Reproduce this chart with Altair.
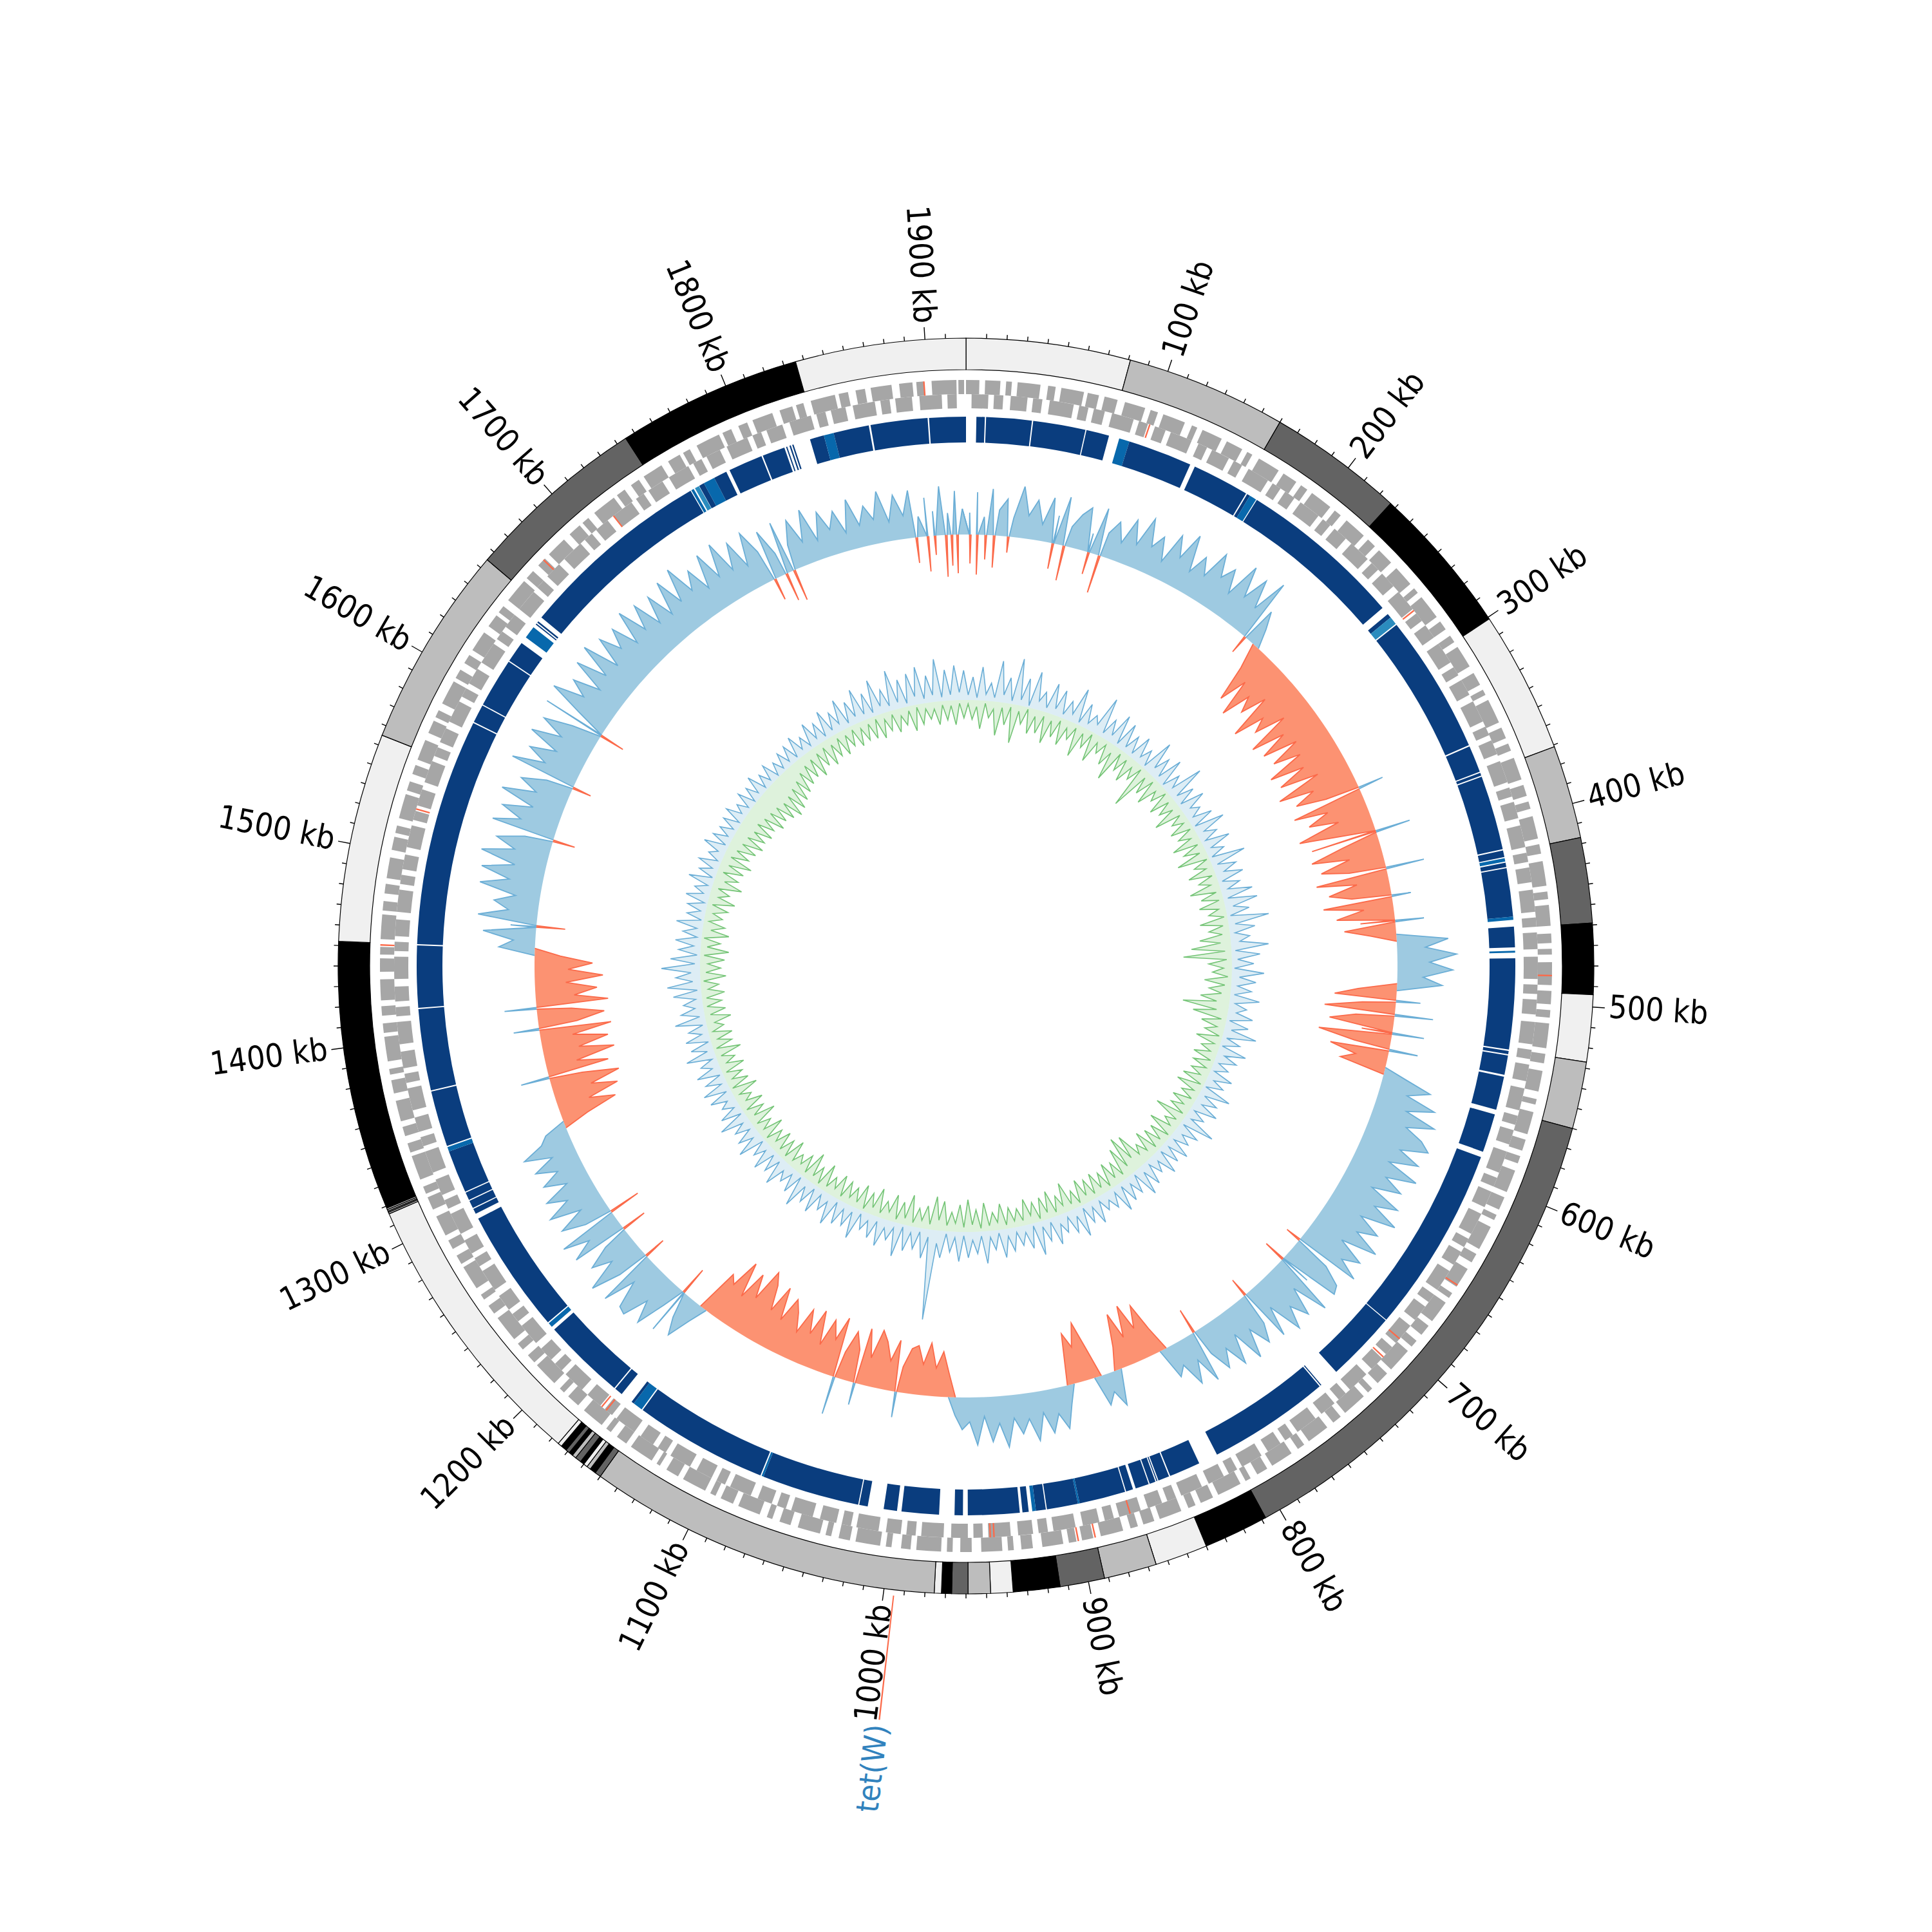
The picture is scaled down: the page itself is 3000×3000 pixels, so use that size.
import altair as alt
import numpy as np
import pandas as pd

GENOME_KB = 1920
BIN_KB = 5
HALF = 1492
FONT = "Liberation Sans Narrow, DejaVu Sans Condensed, sans-serif"

# ---------------- contigs (start kb, end kb, shade) ----------------
contigs = [
    (0, 81, "vl"), (81, 160, "lg"), (160, 227, "dk"), (227, 301, "bk"), (301, 371, "vl"),
    (371, 417, "lg"), (417, 459, "dk"), (459, 494, "bk"), (494, 527, "vl"), (527, 560, "lg"),
    (560, 808, "dk"), (808, 840, "bk"), (840, 866, "vl"), (866, 892, "lg"), (892, 914, "dk"),
    (914, 937, "bk"), (937, 948, "vl"), (948, 959, "lg"), (959, 967, "dk"), (967, 972, "bk"),
    (972, 975.5, "vl"), (975.5, 1150, "lg"), (1150, 1153, "dk"), (1153, 1156, "bk"),
    (1156, 1158, "lg"), (1158, 1160, "vl"), (1160, 1162, "bk"), (1162, 1165, "dk"),
    (1165, 1167, "lg"), (1167, 1169, "bk"), (1169, 1171, "dk"), (1171, 1174, "bk"),
    (1174, 1176, "vl"), (1176, 1316, "vl"), (1316, 1316.8, "lg"), (1316.8, 1317.5, "dk"),
    (1317.5, 1318.2, "vl"), (1318.2, 1319, "lg"), (1319, 1452, "bk"), (1452, 1555, "vl"),
    (1555, 1655, "lg"), (1655, 1745, "dk"), (1745, 1836, "bk"), (1836, 1920, "vl"),
]
contig_shades = ["vl", "lg", "dk", "bk"]
contig_colors = ["#f0f0f0", "#bdbdbd", "#636363", "#000000"]

# ---------------- axis ----------------
tick_kb = list(range(10, GENOME_KB, 10))
label_kb = list(range(100, 2000, 100))

# ---------------- gene runs per strand (start kb, end kb) ----------------
genes_plus = [
    (0, 7), (10, 18), (21, 24), (27, 39), (43, 47), (50, 62), (64, 70), (73, 80), (84, 95), (98, 102),
    (105, 117), (121, 124), (127, 138), (141, 150), (153, 156), (160, 172), (175, 183), (186, 190),
    (193, 205), (208, 212), (216, 228), (231, 236), (239, 248), (252, 263), (266, 269), (272, 285),
    (288, 293), (297, 301), (304, 316), (320, 327), (330, 333), (336, 349), (352, 358), (361, 365),
    (369, 381), (384, 390), (393, 397), (401, 413), (416, 421), (425, 438), (441, 445), (448, 459),
    (463, 468), (471, 474), (478, 490), (493, 500), (503, 507), (510, 523), (526, 531), (535, 546),
    (550, 553), (557, 569), (572, 578), (581, 585), (589, 601), (604, 611), (614, 617), (621, 634),
    (637, 642), (646, 657), (661, 664), (667, 679), (682, 688), (692, 696), (699, 712), (715, 722),
    (726, 729), (732, 745), (748, 753), (757, 769), (772, 776), (780, 792), (795, 801), (805, 808),
    (811, 824), (827, 834), (837, 841), (845, 857), (860, 866), (869, 873), (877, 889), (893, 899),
    (902, 906), (909, 920), (925, 931), (935, 938), (941, 952), (957, 963), (967, 970), (973, 986),
    (989, 994), (999, 1002), (1005, 1018), (1021, 1027), (1031, 1034), (1037, 1049), (1053, 1059),
    (1063, 1066), (1070, 1082), (1085, 1092), (1095, 1098), (1101, 1114), (1117, 1124), (1128, 1130),
    (1133, 1146), (1149, 1155), (1159, 1162), (1165, 1177), (1181, 1188), (1191, 1194), (1198, 1211),
    (1213, 1218), (1222, 1226), (1229, 1243), (1246, 1251), (1255, 1258), (1262, 1275), (1277, 1282),
    (1286, 1291), (1294, 1305), (1309, 1316), (1318, 1322), (1326, 1339), (1341, 1346), (1350, 1355),
    (1358, 1369), (1373, 1380), (1383, 1386), (1390, 1403), (1405, 1410), (1414, 1419), (1422, 1433),
    (1437, 1444), (1446, 1450), (1454, 1467), (1469, 1474), (1478, 1483), (1486, 1497), (1501, 1508),
    (1510, 1514), (1518, 1531), (1533, 1538), (1542, 1547), (1550, 1561), (1565, 1572), (1574, 1578),
    (1582, 1595), (1597, 1602), (1606, 1611), (1614, 1625), (1629, 1636), (1638, 1642), (1646, 1659),
    (1661, 1666), (1670, 1675), (1678, 1689), (1693, 1700), (1702, 1706), (1710, 1723), (1725, 1730),
    (1734, 1739), (1742, 1753), (1757, 1764), (1766, 1770), (1774, 1787), (1789, 1794), (1798, 1803),
    (1806, 1817), (1821, 1828), (1830, 1834), (1838, 1851), (1853, 1858), (1862, 1867), (1870, 1881),
    (1885, 1892), (1894, 1898), (1902, 1915), (1916, 1919),
]
genes_minus = [
    (3, 12), (15, 20), (24, 33), (36, 41), (45, 58), (61, 66), (69, 75), (79, 91), (94, 99), (103, 109),
    (112, 124), (128, 133), (136, 146), (149, 154), (158, 170), (173, 178), (181, 187), (191, 203),
    (206, 211), (214, 222), (226, 238), (241, 246), (249, 258), (262, 274), (277, 282), (285, 293),
    (297, 309), (312, 317), (320, 329), (333, 345), (348, 353), (356, 364), (368, 380), (383, 388),
    (391, 400), (404, 416), (419, 424), (427, 435), (439, 451), (454, 459), (462, 471), (475, 487),
    (490, 495), (498, 506), (510, 522), (525, 530), (533, 542), (546, 558), (561, 566), (569, 577),
    (581, 593), (596, 601), (604, 613), (617, 629), (632, 637), (640, 648), (652, 664), (667, 672),
    (675, 684), (688, 700), (703, 708), (711, 719), (723, 735), (738, 743), (746, 755), (759, 771),
    (774, 779), (782, 790), (794, 806), (809, 814), (817, 826), (830, 842), (845, 850), (853, 861),
    (865, 877), (880, 885), (888, 897), (901, 913), (916, 921), (924, 932), (936, 948), (951, 956),
    (959, 968), (972, 984), (987, 992), (995, 1003), (1007, 1019), (1022, 1027), (1030, 1039),
    (1043, 1055), (1058, 1063), (1066, 1074), (1078, 1090), (1093, 1098), (1101, 1110), (1114, 1126),
    (1129, 1134), (1137, 1145), (1149, 1161), (1164, 1169), (1172, 1181), (1185, 1197), (1200, 1205),
    (1208, 1216), (1220, 1232), (1235, 1240), (1243, 1252), (1256, 1268), (1271, 1276), (1279, 1287),
    (1291, 1303), (1306, 1311), (1314, 1323), (1327, 1339), (1342, 1347), (1350, 1358), (1362, 1374),
    (1377, 1382), (1385, 1394), (1398, 1410), (1413, 1418), (1421, 1429), (1433, 1445), (1448, 1453),
    (1456, 1465), (1469, 1481), (1484, 1489), (1492, 1500), (1504, 1516), (1519, 1524), (1527, 1536),
    (1540, 1552), (1555, 1560), (1563, 1571), (1575, 1587), (1590, 1595), (1598, 1607), (1611, 1623),
    (1626, 1631), (1634, 1642), (1646, 1658), (1661, 1666), (1669, 1678), (1682, 1694), (1697, 1702),
    (1705, 1713), (1717, 1729), (1732, 1737), (1740, 1749), (1753, 1765), (1768, 1773), (1776, 1784),
    (1788, 1800), (1803, 1808), (1811, 1820), (1824, 1836), (1839, 1844), (1847, 1855), (1859, 1871),
    (1874, 1879), (1882, 1891), (1895, 1907), (1910, 1915),
]
rna_genes = [
    (100, "-"), (275, "-"), (485, "+"), (656, "+"), (697, "-"), (710, "-"), (871, "-"), (892, "+"),
    (901, "+"), (945, "-"), (947, "-"), (1168, "-"), (1171, "-"), (1451, "+"), (1525, "-"),
    (1674, "+"), (1717, "-"), (1898, "+"),
]

# ---------------- comparison ring (start kb, end kb, shade) ----------------
hits = [
    (5.8, 10.5, "d"), (11.2, 36.8, "d"), (37.5, 67.0, "d"), (67.6, 80.5, "d"), (86.4, 92.3, "l"),
    (92.3, 128.5, "d"), (131.3, 163.5, "d"), (164.2, 166, "d"), (166, 170, "l"), (170.5, 263, "d"),
    (267.5, 270, "d"), (270, 274.5, "m"), (275.2, 353.5, "d"), (354.3, 369.5, "d"), (370.2, 371.8, "d"),
    (372.5, 414.5, "d"), (415.2, 419, "d"), (419.6, 421.5, "l"), (422.2, 424.6, "d"), (425.3, 452.5, "d"),
    (452.5, 454.3, "l"), (458, 469.6, "d"), (471.5, 472.6, "l"), (475.7, 526.7, "d"), (527.5, 529.3, "d"),
    (530, 540.9, "d"), (542, 560.9, "d"), (563.6, 585.4, "d"), (588.6, 693.8, "d"), (694.3, 734, "d"),
    (745, 745.6, "d"), (746.3, 815, "d"), (826, 843.6, "d"), (844.3, 850.6, "d"), (851.2, 851.8, "d"),
    (852.4, 855.8, "d"), (856.4, 864, "d"), (865.6, 869.6, "d"), (870.2, 896.3, "d"), (896.3, 897.3, "l"),
    (897.3, 914.8, "d"), (915.4, 921, "d"), (921, 923, "l"), (925, 928.5, "d"), (930, 959, "d"),
    (961.7, 966.4, "d"), (975, 996, "d"), (998.5, 1006, "d"), (1015, 1019.8, "d"), (1020.4, 1075.4, "d"),
    (1075.4, 1076.5, "l"), (1077.2, 1152.3, "d"), (1153, 1158.5, "l"), (1158.5, 1160, "d"),
    (1167, 1171.6, "d"), (1172.3, 1219, "d"), (1221, 1223.6, "l"), (1224.3, 1294, "d"), (1297, 1300, "d"),
    (1300.6, 1305, "d"), (1305.6, 1310, "d"), (1310.6, 1334.8, "d"), (1334.8, 1337.3, "l"),
    (1338, 1369.5, "d"), (1370.2, 1416, "d"), (1416.7, 1451.5, "d"), (1452.2, 1580, "d"),
    (1580.7, 1591, "d"), (1591.6, 1619.4, "d"), (1620, 1632, "d"), (1636, 1643, "l"), (1645, 1645.7, "d"),
    (1646.4, 1647.3, "d"), (1650, 1759.5, "d"), (1760, 1761.5, "l"), (1762.3, 1764.8, "m"),
    (1765, 1768, "d"), (1768, 1774.5, "l"), (1774.5, 1782, "d"), (1784, 1803.4, "d"), (1804.2, 1817, "d"),
    (1818, 1818.7, "d"), (1820, 1820.8, "d"), (1821.6, 1822.4, "d"), (1832, 1840, "d"), (1840, 1845.6, "l"),
    (1845.6, 1865.6, "d"), (1866.6, 1898.6, "d"), (1899.4, 1920, "d"),
]

# ---------------- skew track, 5 kb bins ----------------
skew = [
    34, 66, 28, 72, 40, 58, 30, 80, 36, 62, 26, 70, 44, 76, 32, 54, 68, 30, 74, 38,
    60, 30, 72, 36, 84, 42, 64, 28, 78, 46, 90, 34, 66, 40, 86, 52, 74, 38, 95, 48,
    88, 44, 100, 56, 30, -40, -96, -52, -110, -64, -88, -48, -118, -70, -92, -44, -112, -60, -104, -50,
    -98, -56, -115, -62, -108, -48, -120, -66, -100, -54, -112, -60, -95, -50, -118, -64, -104, -58, -110, -52,
    -100, -58, -112, -50, -96, -62, -108, -46, -90, -54, -80, -40, 80, 44, 92, 50, 86, 40, 70, -60,
    -96, -52, -110, -60, -100, -48, -114, -56, -92, -50, -72, 36, 78, 44, 92, 50, 100, 58, 88, 104,
    62, 98, 54, 106, 60, 92, 48, 100, 66, 110, 56, 94, 64, 108, 52, 96, 70, 104, 58, 90,
    96, 50, 100, 44, 88, 60, 94, 40, 86, 52, 80, 46, 90, 38, 84, 48, 76, 42, 82, 40,
    74, 36, 50, -40, -84, -50, -92, -44, -86, -36, 56, 30, 48, -50, -92, -56, -80, 30, 66, 40,
    68, 34, 76, 40, 62, 36, 80, 42, 70, 30, 74, 38, 50, 28, -36, -70, -44, -82, -48, -76,
    -70, -40, -80, -46, -74, -90, -44, -88, -52, -78, -42, -94, -56, -84, -40, -92, -50, -86, -44, -72,
    -90, -50, -100, -56, -94, -112, -60, -96, -50, -104, -58, -70, 30, 66, 40, 74, 36, 82, 48, 88,
    84, 42, 92, 50, 96, 46, 76, 40, 88, 54, 94, 44, 80, 38, 86, 48, 78, 36, 70, 40,
    72, 38, 80, 46, 34, -40, -90, -50, -100, -60, -108, -52, -96, -48, -110, -56, -104, -50, -112, -60,
    -104, -54, -112, -60, -96, -48, -106, -52, -90, -40, 56, 34, 82, 40, 92, 46, 70, 38, 96, 52,
    98, 48, 104, 54, 86, 44, 100, 58, 92, 46, 102, 50, 80, 42, 106, 56, 88, 48, 98, 52,
    90, 46, 100, 50, 104, 56, 84, 42, 96, 48, 102, 44, 92, 58, 88, 46, 98, 52, 90, 44,
    86, 42, 94, 48, 100, 52, 80, 40, 92, 46, 96, 44, 84, 38, 88, 50, 78, 36, 82, 40,
    76, 36, 84, 30, 72, 40, 66, 28, 78, 34, 62, 38, 80, 30, 70, 36, 74, 32, 60, 38, 76, 34, 68, 40,
]
# narrow opposite-sign excursions (kb, value)
skew_spikes = [
    (1885, -40), (1893, -55), (1898, -30), (1906, -65), (1910, -48), (1914, -60), (3, -45), (8, -62),
    (14, -38), (20, -50), (30, -25), (62, -40), (70, -55), (88, -35), (96, -60), (215, -30), (1780, -35),
    (1789, -45), (1795, -50), (1612, -40), (1570, -30), (1530, -35), (1468, -45), (1240, -40),
    (1215, -35), (1178, -45), (1255, -50), (745, -30), (708, -35), (690, -25), (790, -40),
    (350, 40), (383, 55), (410, 60), (430, 30), (448, 45), (505, 38), (515, 60), (528, 50), (540, 45),
    (1360, 45), (1395, 40), (1410, 50), (1010, 40), (1040, 35), (1055, 60),
]

# ---------------- inner track, 5 kb bins ----------------
gc_up = [
    8, 36, 4, 52, 10, 28, 6, 64, 12, 40, 5, 72, 9, 44, 3, 58, 14, 30, 7, 48,
    10, 42, 6, 30, 12, 56, 4, 38, 9, 26, 14, 62, 7, 34, 11, 50, 5, 44, 8, 32,
    6, 40, 10, 28, 4, 54, 12, 36, 7, 46, 3, 30, 11, 60, 8, 34, 5, 42, 13, 26,
    9, 38, 4, 50, 12, 30, 7, 44, 10, 28, 5, 56, 8, 36, 14, 42, 6, 32, 11, 48,
    7, 52, 12, 36, 5, 64, 10, 40, 8, 30, 14, 58, 6, 44, 9, 34, 4, 50, 12, 38,
    10, 32, 6, 46, 9, 28, 13, 40, 5, 36, 11, 52, 7, 30, 4, 44, 12, 34, 8, 26,
    6, 38, 11, 30, 4, 48, 9, 34, 12, 42, 7, 28, 10, 54, 5, 36, 13, 30, 8, 40,
    9, 34, 5, 42, 12, 28, 7, 38, 10, 46, 4, 32, 11, 36, 6, 44, 8, 30, 13, 26,
    7, 40, 10, 32, 5, 48, 12, 36, 8, 30, 14, 44, 6, 34, 9, 52, 4, 38, 11, 30,
    8, 36, 12, 44, 5, 30, 10, 50, 7, 34, 13, 40, 6, 46, 9, 32, 4, 42, 20, 140,
    12, 46, 6, 34, 10, 40, 4, 52, 9, 30, 13, 44, 7, 36, 11, 28, 5, 48, 8, 34,
    10, 38, 5, 46, 12, 30, 8, 42, 6, 34, 11, 50, 4, 36, 9, 28, 13, 44, 7, 32,
    6, 40, 10, 28, 4, 44, 12, 34, 8, 30, 11, 46, 5, 36, 9, 26, 13, 38, 7, 42,
    9, 32, 5, 40, 12, 28, 7, 46, 10, 34, 4, 38, 11, 30, 6, 48, 8, 36, 13, 30,
    10, 44, 6, 52, 12, 38, 14, 60, 8, 46, 5, 34, 11, 40, 7, 30, 9, 42, 4, 28,
    8, 30, 5, 36, 10, 26, 7, 40, 4, 28, 9, 34, 6, 24, 11, 38, 5, 30, 8, 26,
    6, 28, 4, 32, 8, 22, 5, 30, 3, 26, 7, 34, 4, 24, 6, 30, 3, 22, 5, 28,
    7, 30, 4, 36, 9, 26, 6, 40, 10, 32, 5, 44, 8, 34, 12, 48, 6, 38, 11, 52,
    9, 40, 6, 56, 12, 36, 8, 62, 10, 44, 5, 50, 13, 58, 7, 42, 11, 66, 6, 48, 9, 54, 12, 46,
]
gc_down = [
    -6, -30, -10, -44, -4, -26, -12, -52, -8, -34, -5, -60, -9, -28, -3, -40, -11, -36, -7, -48,
    -10, -34, -5, -42, -12, -28, -6, -50, -9, -30, -4, -46, -11, -26, -7, -38, -13, -56, -6, -32,
    -8, -42, -12, -30, -5, -70, -10, -36, -6, -44, -13, -28, -4, -40, -9, -32, -11, -48, -7, -26,
    -9, -36, -5, -30, -12, -46, -7, -34, -10, -50, -4, -28, -11, -42, -6, -30, -13, -48, -8, -34,
    -7, -40, -11, -28, -5, -44, -9, -32, -12, -48, -16, -62, -10, -75, -8, -36, -13, -30, -6, -42,
    -10, -34, -14, -46, -20, -72, -18, -54, -8, -38, -12, -30, -5, -40, -9, -28, -11, -36, -6, -32,
    -8, -30, -12, -38, -5, -42, -10, -28, -7, -36, -13, -32, -6, -50, -9, -26, -11, -44, -4, -34,
    -9, -36, -6, -42, -12, -30, -16, -56, -20, -62, -14, -50, -8, -34, -11, -40, -5, -32, -10, -38,
    -7, -34, -11, -40, -5, -28, -9, -46, -12, -30, -6, -42, -10, -36, -4, -32, -13, -40, -8, -28,
    -10, -32, -6, -40, -12, -28, -8, -44, -5, -34, -11, -50, -7, -42, -13, -30, -9, -46, -16, -52,
    -8, -36, -12, -30, -6, -48, -10, -34, -5, -42, -13, -28, -7, -44, -11, -32, -4, -40, -9, -30,
    -11, -34, -6, -38, -12, -28, -8, -42, -5, -30, -10, -46, -7, -34, -13, -26, -9, -40, -6, -32,
    -8, -36, -12, -30, -5, -40, -10, -28, -7, -44, -11, -32, -6, -38, -13, -26, -9, -42, -4, -34,
    -10, -30, -6, -38, -12, -28, -8, -42, -5, -32, -11, -36, -7, -26, -13, -40, -9, -34, -6, -30,
    -7, -36, -11, -28, -5, -40, -9, -32, -12, -38, -6, -44, -10, -30, -4, -42, -13, -34, -8, -28,
    -12, -34, -8, -42, -14, -30, -10, -46, -16, -36, -9, -40, -13, -48, -11, -38, -15, -44, -18, -50,
    -20, -46, -24, -52, -22, -48, -26, -58, -28, -54, -30, -60, -34, -66, -32, -62, -28, -56, -24, -50,
    -18, -44, -14, -40, -12, -46, -10, -36, -8, -42, -11, -34, -7, -38, -9, -30, -6, -36, -10, -32,
    -8, -34, -5, -38, -10, -30, -6, -36, -12, -28, -7, -40, -4, -32, -9, -26, -11, -36, -6, -30, -8, -38, -5, -28,
]

# ---------------- annotation ----------------
annot_kb = 995
annot_text = "tet(W)"

# ======================================================================
theta_scale = alt.Scale(domain=[0, GENOME_KB], range=[0, 2 * np.pi], nice=False, zero=False)
xy_scale = alt.Scale(domain=[-HALF, HALF], nice=False, zero=False)


def th(field):
    return alt.Theta(f"{field}:Q", scale=theta_scale)


def ring(df, r_out, r_in, **kw):
    return alt.Chart(df).mark_arc(radius=r_out, radius2=r_in, **kw).encode(theta=th("start"), theta2="end:Q")


# ---- polar polyline helpers (track values -> x/y via the chart's own transform) ----
def series_points(bins, spikes):
    pts = [(BIN_KB * i + BIN_KB / 2, v) for i, v in enumerate(bins)]
    for kb, v in spikes:
        pts += [(kb - 0.6, 0), (kb, v), (kb + 0.6, 0)]
    pts.sort()
    return [(pts[-1][0] - GENOME_KB, pts[-1][1])] + pts + [(pts[0][0] + GENOME_KB, pts[0][1])]


def line_frame(pts):
    active = [v != 0 for _, v in pts]
    rows, seg, prev_in = [], 0, False
    for i, (kb, v) in enumerate(pts):
        near = active[i] or (i > 0 and active[i - 1]) or (i < len(pts) - 1 and active[i + 1])
        if not near:
            prev_in = False
            continue
        if not prev_in or (not active[i] and not active[i - 1]):
            seg += 1
        rows.append((kb, v, seg, i))
        prev_in = True
    return pd.DataFrame(rows, columns=["kb", "v", "seg", "idx"])


def fill_frame(pts):
    allp = list(pts) + [(kb, 0) for kb, _ in reversed(pts)]
    return pd.DataFrame({"kb": [p[0] for p in allp], "v": [p[1] for p in allp], "idx": range(len(allp))})


def polar(chart, r0):
    return chart.transform_calculate(
        r=f"{r0} + datum.v",
        x=f"datum.r * sin(2 * PI * datum.kb / {GENOME_KB})",
        y=f"datum.r * cos(2 * PI * datum.kb / {GENOME_KB})",
    )


def track_fill(df, r0, color, opacity):
    c = alt.Chart(df).mark_line(filled=True, interpolate="linear-closed", fill=color, fillOpacity=opacity,
                                strokeWidth=0)
    return polar(c, r0).encode(x=alt.X("x:Q", scale=xy_scale, axis=None),
                               y=alt.Y("y:Q", scale=xy_scale, axis=None),
                               order=alt.Order("idx:Q"))


def track_line(df, r0, color, width):
    c = alt.Chart(df).mark_line(color=color, strokeWidth=width, strokeJoin="miter")
    return polar(c, r0).encode(x=alt.X("x:Q", scale=xy_scale, axis=None),
                               y=alt.Y("y:Q", scale=xy_scale, axis=None),
                               detail="seg:N", order=alt.Order("idx:Q"))


# contigs
contig_df = pd.DataFrame(contigs, columns=["start", "end", "shade"])
contig_layer = ring(contig_df, 975, 926, stroke="black", strokeWidth=1.2).encode(
    fill=alt.Fill("shade:N", scale=alt.Scale(domain=contig_shades, range=contig_colors), legend=None))

# ticks
tick_df = pd.DataFrame({"kb": tick_kb})
tick_df["start"] = tick_df["kb"] - 0.22
tick_df["end"] = tick_df["kb"] + 0.22
is_major = tick_df["kb"] % 100 == 0
minor_ticks = ring(tick_df[~is_major], 982, 975, fill="black")
major_ticks = ring(tick_df[is_major], 994, 975, fill="black")

# labels
lab_df = pd.DataFrame({"kb": label_kb})
lab_df["text"] = lab_df["kb"].astype(str) + " kb"
deg = lab_df["kb"] / GENOME_KB * 360
lab_df["ang"] = np.where(deg < 180, (deg - 90) % 360, (deg - 270) % 360)


def labels(df, align):
    return alt.Chart(df).mark_text(radius=1000, align=align, baseline="middle", fontSize=50, font=FONT,
                                   color="black").encode(
        theta=th("kb"), text="text:N", angle=alt.Angle("ang:Q", scale=None))


right_labels = labels(lab_df[deg < 180], "left")
left_labels = labels(lab_df[deg >= 180], "right")

# genes
gp = pd.DataFrame(genes_plus, columns=["start", "end"])
gm = pd.DataFrame(genes_minus, columns=["start", "end"])
genes_out = ring(gp, 910, 888, fill="#a6a6a6")
genes_in = ring(gm, 888, 866, fill="#a6a6a6")
rna_df = pd.DataFrame(rna_genes, columns=["kb", "strand"])
rna_df["start"] = rna_df["kb"] - 0.4
rna_df["end"] = rna_df["kb"] + 0.4
rna_out = ring(rna_df[rna_df["strand"] == "+"], 910, 888, fill="#fb6a4a")
rna_in = ring(rna_df[rna_df["strand"] == "-"], 888, 866, fill="#fb6a4a")

# comparison ring
hit_df = pd.DataFrame(hits, columns=["start", "end", "shade"])
hit_layer = ring(hit_df, 853, 813).encode(
    fill=alt.Fill("shade:N", scale=alt.Scale(domain=["d", "m", "l"], range=["#0a3d7e", "#2b8cbe", "#0868ac"]),
                  legend=None))

# skew track
SKEW_R0 = 670
skew_pts = series_points(skew, skew_spikes)
pos_pts = [(kb, max(v, 0)) for kb, v in skew_pts]
neg_pts = [(kb, min(v, 0)) for kb, v in skew_pts]
skew_layers = [
    track_fill(fill_frame(pos_pts), SKEW_R0, "#9ecae1", 1),
    track_fill(fill_frame(neg_pts), SKEW_R0, "#fc9272", 1),
    track_line(line_frame(pos_pts), SKEW_R0, "#6baed6", 1.8),
    track_line(line_frame(neg_pts), SKEW_R0, "#fb6a4a", 1.8),
]

# inner GC track
GC_R0 = 413
up_pts = series_points(gc_up, [])
down_pts = series_points(gc_down, [])
gc_layers = [
    track_fill(fill_frame(down_pts), GC_R0, "#a1d99b", 0.35),
    track_fill(fill_frame(up_pts), GC_R0, "#9ecae1", 0.35),
    track_line(line_frame(down_pts), GC_R0, "#74c476", 1.6),
    track_line(line_frame(up_pts), GC_R0, "#6baed6", 1.6),
]

# annotation
ann_df = pd.DataFrame({"kb": [annot_kb], "text": [annot_text]})
ann_df["start"] = ann_df["kb"] - 0.3
ann_df["end"] = ann_df["kb"] + 0.3
ann_df["ang"] = (annot_kb / GENOME_KB * 360 - 270) % 360
ann_line = ring(ann_df, 1178, 984, fill="#fb6a4a")
ann_text = alt.Chart(ann_df).mark_text(
    radius=1186, align="right", baseline="middle", fontSize=48, font=FONT, color="#3182bd").encode(
    theta=th("kb"), text="text:N", angle=alt.Angle("ang:Q", scale=None))

chart = alt.layer(
    contig_layer, minor_ticks, major_ticks, right_labels, left_labels,
    genes_out, genes_in, rna_out, rna_in, hit_layer,
    *skew_layers, *gc_layers, ann_line, ann_text,
).resolve_scale(
    fill="independent"
).properties(
    width=2 * HALF, height=2 * HALF, padding=0
).configure_view(strokeWidth=0)

chart.save("out.html", embed_options={"renderer": "svg", "actions": False})
